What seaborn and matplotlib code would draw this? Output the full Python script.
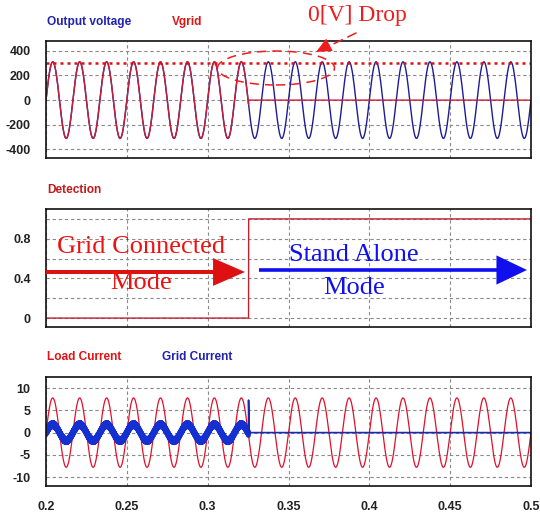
import numpy as np
import pandas as pd
import matplotlib
matplotlib.use("Agg")
import matplotlib.pyplot as plt
import seaborn as sns
from matplotlib.patches import Ellipse, FancyArrowPatch

# ---------------- data ----------------
time_range = [0.2, 0.5]
grid_freq_hz = 60.0
switch_time = 0.3253
output_voltage_peak = 311.0
vgrid_peak = 311.0
vgrid_ref_level = 305.0
detection_before = 0.0
detection_after = 1.0
load_current_peak = 7.8
grid_current_peak = 1.8
grid_current_ripple = 0.5
ripple_freq_hz = 3000.0
grid_current_spike = 7.3

x_ticks = [0.2, 0.25, 0.3, 0.35, 0.4, 0.45, 0.5]
x_tick_labels = ["0.2", "0.25", "0.3", "0.35", "0.4", "0.45", "0.5"]
v_ticks = [400, 200, 0, -200, -400]
v_tick_labels = ["400", "200", "0", "-200", "-400"]
det_ticks = [0, 0.4, 0.8]
det_tick_labels = ["0", "0.4", "0.8"]
det_minor = [0.2, 0.6, 1.0]
i_ticks = [10, 5, 0, -5, -10]
i_tick_labels = ["10", "5", "0", "-5", "-10"]

# ---------------- style ----------------
sns.set_style("white")
plt.rcParams["font.family"] = ["Liberation Sans", "DejaVu Sans"]
plt.rcParams["axes.unicode_minus"] = False

W, H = 540, 517
fig = plt.figure(figsize=(W / 100, H / 100), dpi=100)


def fx(px):
    return px / W


def fy(py):
    return 1 - py / H


def make_ax(top, bottom):
    return fig.add_axes([fx(46), fy(bottom), fx(531) - fx(46), fy(top) - fy(bottom)])


ax1 = make_ax(41, 158)
ax2 = make_ax(209, 327)
ax3 = make_ax(377, 486)

# ---------------- waveforms ----------------
t = np.linspace(time_range[0], time_range[1], 30001)
w = 2 * np.pi * grid_freq_hz
before = t < switch_time

out_v = output_voltage_peak * np.sin(w * t)
vgrid = np.where(before, vgrid_peak * np.sin(w * t), 0.0)
detect = np.where(before, detection_before, detection_after)
i_load = load_current_peak * np.sin(w * t)
i_grid = (grid_current_peak * np.sin(w * t)
          + grid_current_ripple * np.sign(np.sin(2 * np.pi * ripple_freq_hz * t)))

df = pd.DataFrame({"t": t, "out_v": out_v, "vgrid": vgrid, "detect": detect,
                   "i_load": i_load, "i_grid": i_grid})
df_b = df[before]

blue_v = "#1c1c96"
red_v = "#c41e3a"
sns.lineplot(data=df, x="t", y="out_v", ax=ax1, color=blue_v, lw=1.0, estimator=None, sort=False)
sns.lineplot(data=df, x="t", y="vgrid", ax=ax1, color=red_v, lw=1.0, estimator=None, sort=False)
ax1.axhline(vgrid_ref_level, color="#e01010", lw=1.8, ls=(0, (1.2, 1.6)))

sns.lineplot(data=df, x="t", y="detect", ax=ax2, color="#c02030", lw=1.0, estimator=None, sort=False)

sns.lineplot(data=df, x="t", y="i_load", ax=ax3, color="#e0102a", lw=0.9, estimator=None, sort=False)
sns.lineplot(data=df_b, x="t", y="i_grid", ax=ax3, color="#1530d0", lw=3.2, estimator=None, sort=False)
spike = pd.DataFrame({"t": [switch_time, switch_time, switch_time + 0.0004, time_range[1]],
                      "i": [0.0, grid_current_spike, 0.0, 0.0]})
sns.lineplot(data=spike, x="t", y="i", ax=ax3, color="#1a2ab0", lw=1.2, estimator=None, sort=False)

# ---------------- axes styling ----------------
tick_font = dict(fontsize=9, fontweight="bold", color="#222222")
for ax in (ax1, ax2, ax3):
    ax.set_xlim(time_range)
    ax.set_xticks(x_ticks)
    ax.set_xlabel("")
    ax.set_ylabel("")
    ax.grid(True, which="both", color="#8a8a8a", lw=0.8, ls=(0, (3, 2.5)))
    ax.set_axisbelow(True)
    for s in ax.spines.values():
        s.set_visible(True)
        s.set_color("#111111")
        s.set_linewidth(1.2)
    ax.tick_params(axis="both", which="both", length=0, pad=11)

ax1.set_xticklabels([])
ax2.set_xticklabels([])
ax3.set_xticklabels(x_tick_labels, **tick_font)

ax1.set_ylim(-470, 480)
ax1.set_yticks(v_ticks)
ax1.set_yticklabels(v_tick_labels, **tick_font)

ax2.set_ylim(-0.09, 1.1)
ax2.set_yticks(det_ticks)
ax2.set_yticklabels(det_tick_labels, **tick_font)
ax2.set_yticks(det_minor, minor=True)

ax3.set_ylim(-12, 12.5)
ax3.set_yticks(i_ticks)
ax3.set_yticklabels(i_tick_labels, **tick_font)

# ---------------- titles ----------------
title_kw = dict(fontsize=8.6, fontweight="bold", va="center", ha="left")
fig.text(fx(47), fy(22), "Output voltage", color="#2222b0", **title_kw)
fig.text(fx(172), fy(22), "Vgrid", color="#dd1515", **title_kw)
fig.text(fx(47), fy(190), "Detection", color="#c01a1a", **title_kw)
fig.text(fx(47), fy(357), "Load Current", color="#dd1515", **title_kw)
fig.text(fx(162), fy(357), "Grid Current", color="#2222b0", **title_kw)

# ---------------- annotations ----------------
serif = ["Liberation Serif", "DejaVu Serif"]
fig.text(fx(357), fy(16), "0[V] Drop", color="#ee1c1c", fontsize=17, family=serif,
         ha="center", va="center")

ell = Ellipse((fx(276), fy(68)), fx(117), 34 / H, transform=fig.transFigure,
              fill=False, edgecolor="#ee1c1c", lw=1.1, ls=(0, (6, 4)))
fig.add_artist(ell)
fig.add_artist(FancyArrowPatch((fx(356), fy(33)), (fx(317), fy(52)), transform=fig.transFigure,
                               arrowstyle="-", color="#ee1c1c", lw=1.1, ls=(0, (6, 4)),
                               shrinkA=0, shrinkB=8))
fig.add_artist(FancyArrowPatch((fx(331), fy(44)), (fx(316), fy(52)), transform=fig.transFigure,
                               arrowstyle="simple,head_width=10,head_length=11,tail_width=0.1",
                               mutation_scale=1, color="#ee1c1c", lw=0, shrinkA=0, shrinkB=0))

fig.add_artist(FancyArrowPatch((fx(46), fy(272)), (fx(245), fy(272)), transform=fig.transFigure,
                               arrowstyle="simple,head_width=20,head_length=23,tail_width=2.9",
                               mutation_scale=1, color="#dd1111", lw=0, shrinkA=0, shrinkB=0))
fig.add_artist(FancyArrowPatch((fx(259), fy(270)), (fx(527), fy(270)), transform=fig.transFigure,
                               arrowstyle="simple,head_width=21,head_length=22,tail_width=2.6",
                               mutation_scale=1, color="#1010ee", lw=0, shrinkA=0, shrinkB=0))

fig.text(fx(141), fy(247), "Grid Connected", color="#ee1111", fontsize=19, family=serif,
         ha="center", va="center")
fig.text(fx(141), fy(283), "Mode", color="#ee1111", fontsize=19, family=serif,
         ha="center", va="center")
fig.text(fx(354), fy(255), "Stand Alone", color="#1010ee", fontsize=19, family=serif,
         ha="center", va="center")
fig.text(fx(354), fy(288), "Mode", color="#1010ee", fontsize=19, family=serif,
         ha="center", va="center")

fig.savefig("out.png", dpi=100)
